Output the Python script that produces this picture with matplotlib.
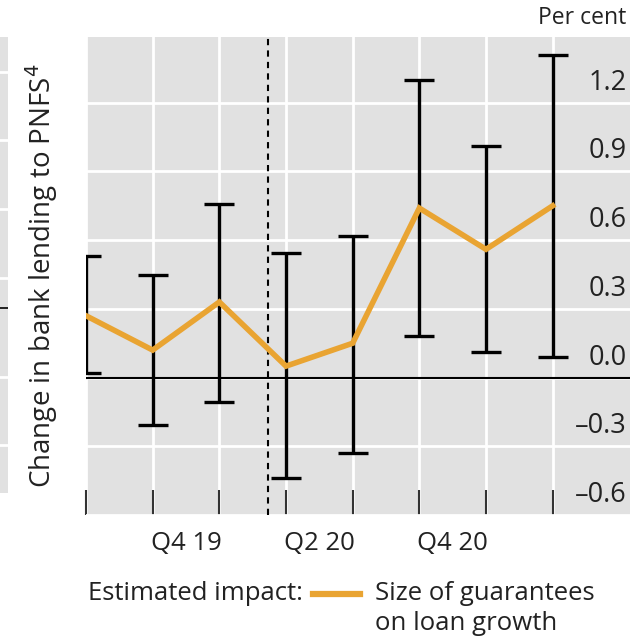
import matplotlib
matplotlib.use("Agg")
import matplotlib.pyplot as plt

# ---- data -------------------------------------------------------------
positions = [0, 1, 2, 3, 4, 5, 6, 7]
impact = [0.27, 0.12, 0.33, 0.05, 0.15, 0.74, 0.56, 0.75]
upper = [0.53, 0.45, 0.76, 0.545, 0.62, 1.30, 1.01, 1.41]
lower = [0.02, -0.205, -0.105, -0.44, -0.33, 0.18, 0.11, 0.09]
quarter_labels = ["Q4 19", "Q2 20", "Q4 20"]
quarter_label_pos = [1.5, 3.5, 5.5]
y_ticks = [-0.6, -0.3, 0.0, 0.3, 0.6, 0.9, 1.2]
y_tick_labels = ["\u20130.6", "\u20130.3", "0.0", "0.3", "0.6", "0.9", "1.2"]
policy_break = 2.73

# gridlines of the neighbouring panel, visible at the far left
side_rule_y = [72, 140, 209, 278, 377, 445]

ORANGE = "#E9A432"
GREY = "#E1E1E1"
TEXT = "#222222"
FONT = "Open Sans"
FS = 18.5

W, H = 636, 640
fig = plt.figure(figsize=(W / 100, H / 100), dpi=100)
plt.rcParams["font.family"] = [FONT, "DejaVu Sans"]


def px_axes(x0, y0, x1, y1):
    return fig.add_axes([x0 / W, 1 - y1 / H, (x1 - x0) / W, (y1 - y0) / H])


# ---- sliver of the adjacent panel on the far left ----------------------
side = px_axes(0, 37, 8, 493)
side.set_facecolor(GREY)
side.set_xlim(0, 8)
side.set_ylim(493, 37)
for s in side.spines.values():
    s.set_visible(False)
side.set_xticks([])
side.set_yticks([])
for yy in side_rule_y:
    side.axhline(yy, color="white", lw=2)
side.plot([0, 8], [308, 308], color="black", lw=1.2)

# ---- main panel -------------------------------------------------------
ax = px_axes(86, 37, 630, 515)
ax.set_facecolor(GREY)
ax.set_xlim(0, 8.16)
ax.set_ylim(-0.6, 1.487)
for s in ax.spines.values():
    s.set_visible(False)

ax.set_yticks(y_ticks)
ax.set_xticks(positions)
ax.grid(True, color="white", lw=2)
ax.set_axisbelow(True)
ax.tick_params(axis="y", length=0, labelleft=False, labelright=False)
ax.tick_params(axis="x", direction="in", length=18, width=1.5, color="#333333",
               labelbottom=False)

ax.axhline(0, color="black", lw=1.5, zorder=2)
ax.axvline(policy_break, color="black", lw=1.5, ls=(0, (3, 2.5)), zorder=2)

yerr = [[v - lo for v, lo in zip(impact, lower)],
        [hi - v for v, hi in zip(impact, upper)]]
ax.errorbar(positions, impact, yerr=yerr, fmt="none", ecolor="black",
            elinewidth=2.4, capsize=11, capthick=2.4, zorder=3)
ax.plot(positions, impact, color=ORANGE, lw=4, solid_joinstyle="miter", zorder=4)

# value labels sit just above their gridlines, inside the panel
for v, lab in zip(y_ticks, y_tick_labels):
    ax.annotate(lab, xy=(1, v), xycoords=("axes fraction", "data"),
                xytext=(-3, 20), textcoords="offset pixels",
                ha="right", va="center", fontsize=19.5, color=TEXT)

for xp, lab in zip(quarter_label_pos, quarter_labels):
    ax.annotate(lab, xy=(xp, 0), xycoords=("data", "axes fraction"),
                xytext=(0, -28), textcoords="offset pixels",
                ha="center", va="center", fontsize=FS, color=TEXT,
                annotation_clip=False)

fig.text(626 / W, 1 - 18 / H, "Per cent", ha="right", va="center",
         fontsize=16.5, color=TEXT)

fig.text(42 / W, 1 - 276 / H, "Change in bank lending to PNFS$^{4}$",
         rotation=90, ha="center", va="center", fontsize=20, color=TEXT)

# ---- legend -----------------------------------------------------------
fig.text(88 / W, 1 - 593 / H, "Estimated impact:", ha="left", va="center",
         fontsize=FS, color=TEXT)
fig.add_artist(plt.Line2D([313 / W, 360 / W], [1 - 594 / H, 1 - 594 / H],
                          color=ORANGE, lw=4.5, transform=fig.transFigure))
fig.text(375 / W, 1 - 593 / H, "Size of guarantees", ha="left", va="center",
         fontsize=FS, color=TEXT)
fig.text(375 / W, 1 - 624 / H, "on loan growth", ha="left", va="center",
         fontsize=FS, color=TEXT)

fig.savefig("out.png", dpi=100)
